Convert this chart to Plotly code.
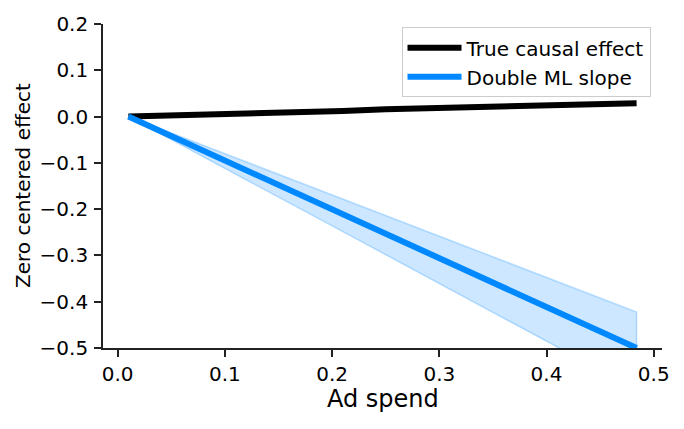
import plotly.graph_objects as go

# ad spend grid
ad_spend = [0.01, 0.05, 0.10, 0.15, 0.20, 0.21, 0.25, 0.30, 0.35, 0.40, 0.45, 0.484]
true_effect = [0.0, 0.002, 0.005, 0.009, 0.012, 0.012, 0.016, 0.019, 0.021, 0.024, 0.027, 0.029]

# double ML slope and its interval
dml_x = [0.01, 0.10, 0.20, 0.30, 0.40, 0.484]
dml_slope = [0.0, -0.095, -0.200, -0.306, -0.411, -0.500]
dml_upper = [0.0, -0.080, -0.169, -0.258, -0.347, -0.4225]
dml_lower = [0.0, -0.112, -0.236, -0.361, -0.485, -0.590]

x_ticks = [0.0, 0.1, 0.2, 0.3, 0.4, 0.5]
y_ticks = [-0.5, -0.4, -0.3, -0.2, -0.1, 0.0, 0.1, 0.2]

BLUE = "#0088ff"
FONT = "DejaVu Sans"

fig = go.Figure()
fig.add_trace(go.Scatter(x=ad_spend, y=true_effect, mode="lines",
                         line=dict(color="black", width=6),
                         name="True causal effect"))
fig.add_trace(go.Scatter(x=dml_x + dml_x[::-1], y=dml_upper + dml_lower[::-1],
                         mode="lines", fill="toself",
                         fillcolor="rgba(0,136,255,0.2)",
                         line=dict(color="rgba(0,136,255,0.25)", width=1.5),
                         showlegend=False, hoverinfo="skip"))
fig.add_trace(go.Scatter(x=dml_x, y=dml_slope, mode="lines",
                         line=dict(color=BLUE, width=6),
                         name="Double ML slope"))

axis_style = dict(showline=True, linecolor="#222", linewidth=1.6,
                  ticks="outside", ticklen=7, tickwidth=1.6, tickcolor="#222",
                  showgrid=False, zeroline=False, tickformat=".1f",
                  tickfont=dict(family=FONT, size=20, color="black"))

fig.update_xaxes(range=[-0.0137, 0.5077], tickvals=x_ticks, **axis_style)
fig.update_yaxes(range=[-0.5, 0.2], tickvals=y_ticks, ticklabelstandoff=2, **axis_style)

fig.update_layout(
    width=684, height=429,
    margin=dict(l=103, r=22, t=20, b=81),
    plot_bgcolor="white", paper_bgcolor="white",
    font=dict(family=FONT, size=20, color="black"),
    legend=dict(x=0.534, y=0.99, xanchor="left", yanchor="top",
                bgcolor="white", bordercolor="#cccccc", borderwidth=1,
                itemwidth=54,
                font=dict(family=FONT, size=20)),
    annotations=[
        dict(text="Ad spend", xref="paper", yref="paper", x=0.5, y=0,
             yshift=-51, showarrow=False, xanchor="center", yanchor="middle",
             font=dict(family=FONT, size=24)),
        dict(text="Zero centered effect", xref="paper", yref="paper", x=0, y=0.5,
             xshift=-80, textangle=-90, showarrow=False,
             xanchor="center", yanchor="middle",
             font=dict(family=FONT, size=20)),
    ],
)

fig.write_html("out.html", config={"displayModeBar": False},
               post_script="document.body.style.margin = '0';")
